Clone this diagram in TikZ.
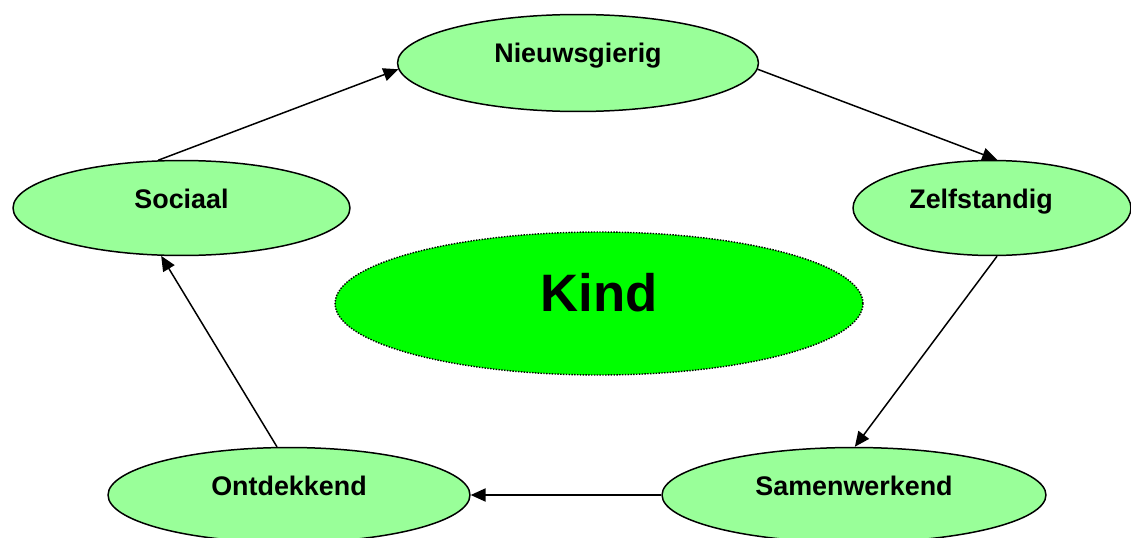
\documentclass[tikz,border=0pt]{standalone}
\usepackage{fontspec}
\setsansfont{Liberation Sans}
\usepackage{xcolor}
\usetikzlibrary{shapes.geometric,arrows.meta}

\definecolor{lichtgroen}{HTML}{99FF99}
\definecolor{felgroen}{HTML}{00FF00}

\begin{document}
\begin{tikzpicture}[x=0.02cm,y=-0.02cm,-{Triangle[length=8.5pt,width=7.5pt]},line width=0.85pt,
   eigenschap/.style={ellipse,draw,fill=lichtgroen,inner sep=0pt,minimum height=1.9cm,
     text height=12pt,text depth=12pt,font=\sffamily\bfseries\fontsize{15.3}{18}\selectfont},
   kern/.style={ellipse,draw,fill=felgroen,inner sep=0pt,line width=0.8pt,
     dash pattern=on 0.8pt off 0.8pt,text height=0.8cm,text depth=0.5cm,
     font=\sffamily\bfseries\fontsize{30}{36}\selectfont}]

  \useasboundingbox (0,0) rectangle (1131,537);

  \node[kern,minimum width=10.56cm,minimum height=2.86cm](kind) at (599,303.5) {Kind};
  \node[eigenschap,minimum width=7.22cm,minimum height=1.94cm](nieuwsgierig) at (578,63) {Nieuwsgierig};
  \node[eigenschap,minimum width=5.56cm](zelfstandig) at (992,208) {Zelfstandig\hspace*{0.44cm}};
  \node[eigenschap,minimum width=7.68cm](samenwerkend) at (854,495) {Samenwerkend};
  \node[eigenschap,minimum width=7.24cm](ontdekkend) at (289,495) {Ontdekkend};
  \node[eigenschap,minimum width=6.74cm](sociaal) at (181.5,208) {Sociaal};

  \foreach \from/\to in {sociaal.116/nieuwsgierig.182,nieuwsgierig.358/zelfstandig.84,
    zelfstandig.276/samenwerkend.89,samenwerkend.180/ontdekkend.0,ontdekkend.104/sociaal.247}
    \draw (\from) -- (\to);
\end{tikzpicture}
\end{document}
